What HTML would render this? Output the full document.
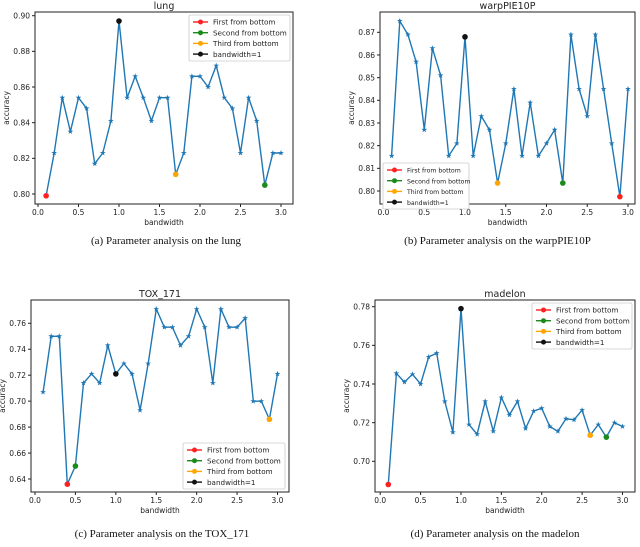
<!DOCTYPE html>
<html><head><meta charset="utf-8">
<style>
body{margin:0;background:#fff;width:640px;height:542px;overflow:hidden}
svg text{font-family:"DejaVu Sans","Liberation Sans",sans-serif;fill:#222}
.cap{font-family:"Liberation Serif",serif;font-size:11px;fill:#111}
</style></head>
<body>
<svg id="fig" width="640" height="542" viewBox="0 0 640 542" xmlns="http://www.w3.org/2000/svg"></svg>
<script>
const bandwidths=[0.1,0.2,0.3,0.4,0.5,0.6,0.7,0.8,0.9,1.0,1.1,1.2,1.3,1.4,1.5,1.6,1.7,1.8,1.9,2.0,2.1,2.2,2.3,2.4,2.5,2.6,2.7,2.8,2.9,3.0];
const lungAcc=[0.799,0.823,0.854,0.835,0.854,0.848,0.817,0.823,0.841,0.897,0.854,0.866,0.854,0.841,0.854,0.854,0.811,0.823,0.866,0.866,0.860,0.872,0.854,0.848,0.823,0.854,0.841,0.805,0.823,0.823];
const warpAcc=[0.8155,0.875,0.869,0.857,0.827,0.863,0.851,0.8155,0.821,0.868,0.8155,0.833,0.827,0.8035,0.821,0.845,0.8155,0.839,0.8155,0.821,0.827,0.8035,0.869,0.845,0.833,0.869,0.845,0.821,0.7975,0.845];
const toxAcc=[0.707,0.750,0.750,0.636,0.650,0.714,0.721,0.714,0.743,0.721,0.729,0.721,0.693,0.729,0.771,0.757,0.757,0.743,0.750,0.771,0.757,0.714,0.771,0.757,0.757,0.764,0.700,0.700,0.686,0.721];
const madelonAcc=[0.688,0.7455,0.741,0.745,0.740,0.754,0.756,0.731,0.715,0.779,0.719,0.714,0.731,0.7155,0.733,0.724,0.731,0.717,0.726,0.7275,0.718,0.7155,0.722,0.7215,0.7265,0.7135,0.719,0.7125,0.720,0.718];
const xTicks=[0.0,0.5,1.0,1.5,2.0,2.5,3.0];
const lungYTicks=[0.80,0.82,0.84,0.86,0.88,0.90];
const warpYTicks=[0.80,0.81,0.82,0.83,0.84,0.85,0.86,0.87];
const toxYTicks=[0.64,0.66,0.68,0.70,0.72,0.74,0.76];
const madelonYTicks=[0.70,0.72,0.74,0.76,0.78];
// highlighted indices: first, second, third from bottom, bandwidth=1
const lungHi=[0,27,16,9];
const warpHi=[28,21,13,9];
const toxHi=[3,4,28,9];
const madelonHi=[0,27,25,9];
const legendLabels=["First from bottom","Second from bottom","Third from bottom","bandwidth=1"];
const hiColors=["#ff2020","#1a8a1a","#ffa500","#111111"];

const NS="http://www.w3.org/2000/svg";
const svg=document.getElementById('fig');
function mk(tag,attrs,parent){const e=document.createElementNS(NS,tag);for(const k in attrs)e.setAttribute(k,attrs[k]);(parent||svg).appendChild(e);return e;}
function star(cx,cy,r){let p=[];for(let i=0;i<10;i++){const a=-Math.PI/2+i*Math.PI/5;const rr=i%2?r*0.4:r;p.push((cx+rr*Math.cos(a)).toFixed(1)+','+(cy+rr*Math.sin(a)).toFixed(1));}return p.join(' ');}

function panel(o){
  const g=mk('g',{});
  
  
  const X=v=>o.x0+(v)*(o.x3-o.x0)/3;
  const Y=v=>o.yA+(v-o.vA)*(o.yB-o.yA)/(o.vB-o.vA);
  const fr=mk('rect',{x:o.L,y:o.T,width:o.R-o.L,height:o.B-o.T,fill:'none',stroke:'#222','stroke-width':1},g);
  
  const t=mk('text',{x:(o.L+o.R)/2,y:o.T-3,'text-anchor':'middle','font-size':'9.5'},g);t.textContent=o.title;
  
  xTicks.forEach(v=>{mk('line',{x1:X(v),x2:X(v),y1:o.B,y2:o.B+3,stroke:'#222'},g);
    const tx=mk('text',{x:X(v),y:o.B+11,'text-anchor':'middle','font-size':'7.5'},g);tx.textContent=v.toFixed(1);
    });
  o.yt.forEach(v=>{mk('line',{x1:o.L-3,x2:o.L,y1:Y(v),y2:Y(v),stroke:'#222'},g);
    const ty=mk('text',{x:o.L-5,y:Y(v)+2.8,'text-anchor':'end','font-size':'7.5'},g);ty.textContent=v.toFixed(o.dec);
    });
  const xl=mk('text',{x:(o.L+o.R)/2,y:o.B+21,'text-anchor':'middle','font-size':'7.5'},g);xl.textContent='bandwidth';
  
  const yx=o.L-(o.dec==3?30:26);
  const yl=mk('text',{x:yx,y:(o.T+o.B)/2,'text-anchor':'middle','font-size':'7.5',transform:`rotate(-90 ${yx} ${(o.T+o.B)/2})`},g);yl.textContent='accuracy';
  
  const pts=o.d.map((v,i)=>X(bandwidths[i]).toFixed(1)+','+Y(v).toFixed(1)).join(' ');
  const ln=mk('polyline',{points:pts,fill:'none',stroke:'#1f77b4','stroke-width':1.4},g);
  
  o.d.forEach((v,i)=>{const s=mk('polygon',{points:star(X(bandwidths[i]),Y(v),3),fill:'#1f77b4'},g);
    });
  o.hi.forEach((idx,k)=>{const c=mk('circle',{cx:X(bandwidths[idx]),cy:Y(o.d[idx]),r:2.8,fill:hiColors[k]},g);
    });
  const lg=mk('g',{},g);
  mk('rect',{x:o.lg[0],y:o.lg[1],width:o.lg[2],height:46,fill:'#fff',stroke:'#ccc','stroke-width':0.8,rx:1.5},lg);
  legendLabels.forEach((lab,k)=>{const yy=o.lg[1]+7+k*10.7;const ex=o.lg[0]+4;
    const e=mk('g',{},lg);
    mk('line',{x1:ex,x2:ex+15,y1:yy,y2:yy,stroke:hiColors[k],'stroke-width':1.4},e);
    mk('circle',{cx:ex+7.5,cy:yy,r:2.5,fill:hiColors[k]},e);
    const tt=mk('text',{x:ex+20,y:yy+2.7,'font-size':o.lfs},e);tt.textContent=lab;});
  const cp=mk('text',{x:(o.L+o.R)/2-(o.name=='lung'||o.name=='tox'?-2:10),y:o.capY,'text-anchor':'middle',class:'cap'},g);cp.textContent=o.cap;
  
}
panel({name:'lung',title:'lung',L:35,R:293,T:12,B:204,x0:38,x3:281,vA:0.90,yA:15.7,vB:0.80,yB:194,yt:lungYTicks,dec:2,d:lungAcc,hi:lungHi,lg:[189,15,101],lfs:'7.2',capY:244,cap:'(a)  Parameter analysis on the lung'});
panel({name:'warp',title:'warpPIE10P',L:380,R:635,T:12,B:204,x0:383.5,x3:628,vA:0.87,yA:32.3,vB:0.80,yB:191,yt:warpYTicks,dec:2,d:warpAcc,hi:warpHi,lg:[383,163,86],lfs:'6.2',capY:244,cap:'(b)  Parameter analysis on the warpPIE10P'});
panel({name:'tox',title:'TOX_171',L:31,R:289,T:300,B:492,x0:35,x3:277.5,vA:0.76,yA:323.3,vB:0.64,yB:479,yt:toxYTicks,dec:2,d:toxAcc,hi:toxHi,lg:[183,443,102],lfs:'7.2',capY:537,cap:'(c)  Parameter analysis on the TOX_171'});
panel({name:'madelon',title:'madelon',L:375,R:635,T:300,B:492,x0:380.2,x3:622.5,vA:0.78,yA:306.7,vB:0.70,yB:461.3,yt:madelonYTicks,dec:2,d:madelonAcc,hi:madelonHi,lg:[532,303,100],lfs:'7.2',capY:537,cap:'(d)  Parameter analysis on the madelon'});
</script>
</body></html>
